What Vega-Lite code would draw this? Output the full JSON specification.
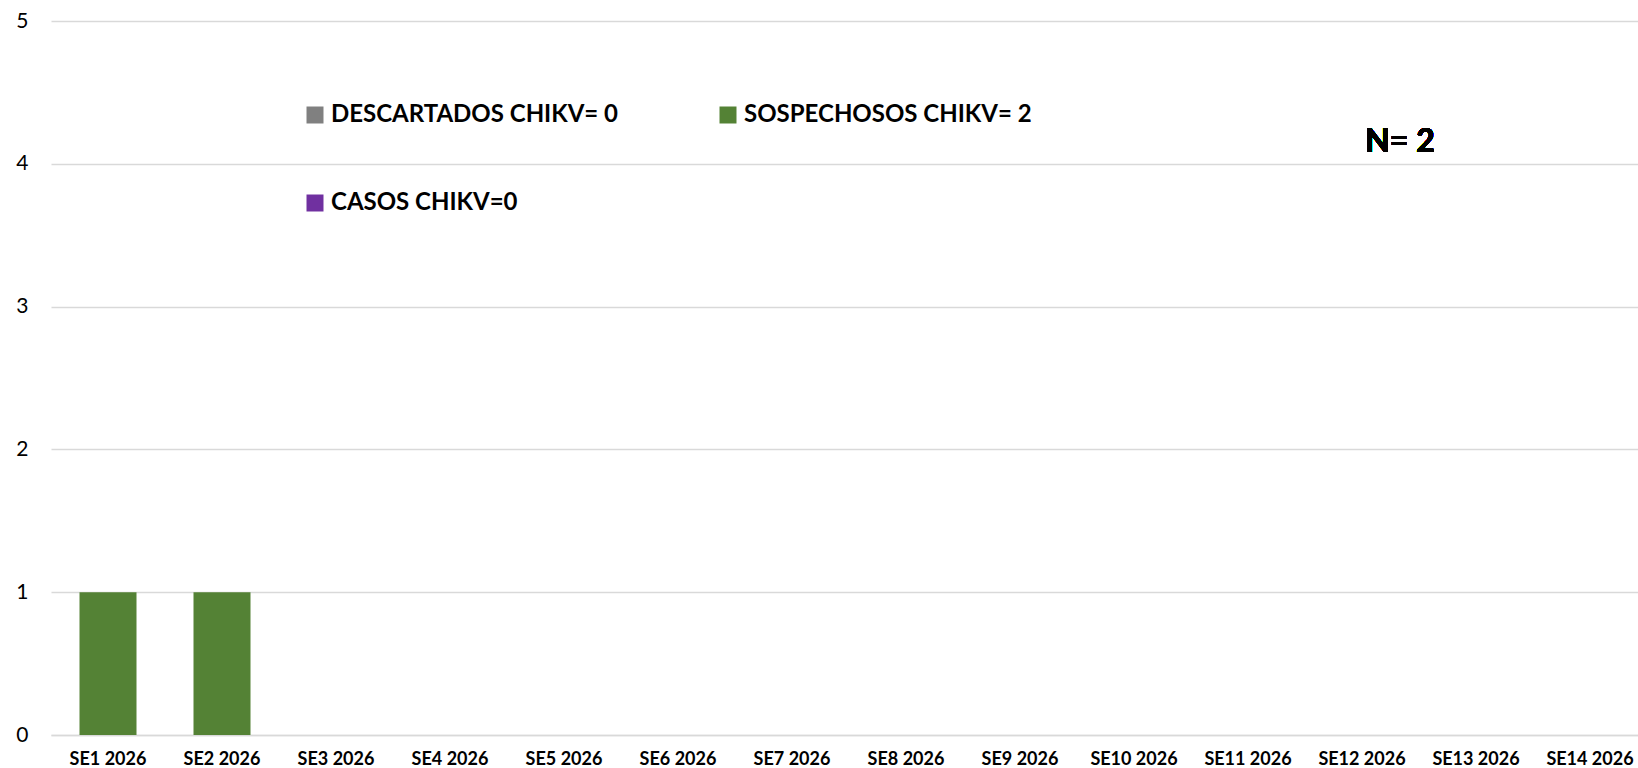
{
  "$schema": "https://vega.github.io/schema/vega-lite/v6.json",
  "autosize": "none",
  "width": 1596,
  "height": 714,
  "padding": {"left": 51, "top": 21, "right": 0, "bottom": 33},
  "background": "white",
  "config": {
    "font": "Lato",
    "view": {"stroke": null}
  },
  "data": {
    "values": [
      {"semana": "SE1 2026", "serie": "DESCARTADOS CHIKV= 0", "casos": 0},
      {"semana": "SE1 2026", "serie": "SOSPECHOSOS CHIKV= 2", "casos": 1},
      {"semana": "SE1 2026", "serie": "CASOS CHIKV=0", "casos": 0},
      {"semana": "SE2 2026", "serie": "DESCARTADOS CHIKV= 0", "casos": 0},
      {"semana": "SE2 2026", "serie": "SOSPECHOSOS CHIKV= 2", "casos": 1},
      {"semana": "SE2 2026", "serie": "CASOS CHIKV=0", "casos": 0},
      {"semana": "SE3 2026", "serie": "DESCARTADOS CHIKV= 0", "casos": 0},
      {"semana": "SE3 2026", "serie": "SOSPECHOSOS CHIKV= 2", "casos": 0},
      {"semana": "SE3 2026", "serie": "CASOS CHIKV=0", "casos": 0},
      {"semana": "SE4 2026", "serie": "DESCARTADOS CHIKV= 0", "casos": 0},
      {"semana": "SE4 2026", "serie": "SOSPECHOSOS CHIKV= 2", "casos": 0},
      {"semana": "SE4 2026", "serie": "CASOS CHIKV=0", "casos": 0},
      {"semana": "SE5 2026", "serie": "DESCARTADOS CHIKV= 0", "casos": 0},
      {"semana": "SE5 2026", "serie": "SOSPECHOSOS CHIKV= 2", "casos": 0},
      {"semana": "SE5 2026", "serie": "CASOS CHIKV=0", "casos": 0},
      {"semana": "SE6 2026", "serie": "DESCARTADOS CHIKV= 0", "casos": 0},
      {"semana": "SE6 2026", "serie": "SOSPECHOSOS CHIKV= 2", "casos": 0},
      {"semana": "SE6 2026", "serie": "CASOS CHIKV=0", "casos": 0},
      {"semana": "SE7 2026", "serie": "DESCARTADOS CHIKV= 0", "casos": 0},
      {"semana": "SE7 2026", "serie": "SOSPECHOSOS CHIKV= 2", "casos": 0},
      {"semana": "SE7 2026", "serie": "CASOS CHIKV=0", "casos": 0},
      {"semana": "SE8 2026", "serie": "DESCARTADOS CHIKV= 0", "casos": 0},
      {"semana": "SE8 2026", "serie": "SOSPECHOSOS CHIKV= 2", "casos": 0},
      {"semana": "SE8 2026", "serie": "CASOS CHIKV=0", "casos": 0},
      {"semana": "SE9 2026", "serie": "DESCARTADOS CHIKV= 0", "casos": 0},
      {"semana": "SE9 2026", "serie": "SOSPECHOSOS CHIKV= 2", "casos": 0},
      {"semana": "SE9 2026", "serie": "CASOS CHIKV=0", "casos": 0},
      {"semana": "SE10 2026", "serie": "DESCARTADOS CHIKV= 0", "casos": 0},
      {"semana": "SE10 2026", "serie": "SOSPECHOSOS CHIKV= 2", "casos": 0},
      {"semana": "SE10 2026", "serie": "CASOS CHIKV=0", "casos": 0},
      {"semana": "SE11 2026", "serie": "DESCARTADOS CHIKV= 0", "casos": 0},
      {"semana": "SE11 2026", "serie": "SOSPECHOSOS CHIKV= 2", "casos": 0},
      {"semana": "SE11 2026", "serie": "CASOS CHIKV=0", "casos": 0},
      {"semana": "SE12 2026", "serie": "DESCARTADOS CHIKV= 0", "casos": 0},
      {"semana": "SE12 2026", "serie": "SOSPECHOSOS CHIKV= 2", "casos": 0},
      {"semana": "SE12 2026", "serie": "CASOS CHIKV=0", "casos": 0},
      {"semana": "SE13 2026", "serie": "DESCARTADOS CHIKV= 0", "casos": 0},
      {"semana": "SE13 2026", "serie": "SOSPECHOSOS CHIKV= 2", "casos": 0},
      {"semana": "SE13 2026", "serie": "CASOS CHIKV=0", "casos": 0},
      {"semana": "SE14 2026", "serie": "DESCARTADOS CHIKV= 0", "casos": 0},
      {"semana": "SE14 2026", "serie": "SOSPECHOSOS CHIKV= 2", "casos": 0},
      {"semana": "SE14 2026", "serie": "CASOS CHIKV=0", "casos": 0}
    ]
  },
  "layer": [
    {
      "mark": {"type": "bar", "stroke": null},
      "encoding": {
        "x": {
          "field": "semana",
          "type": "nominal",
          "sort": null,
          "scale": {"paddingInner": 0.5, "paddingOuter": 0.25},
          "axis": {
            "title": null,
            "labelAngle": 0,
            "labelFont": "Lato",
            "labelFontWeight": "bold",
            "labelFontSize": 18,
            "labelColor": "#000000",
            "labelPadding": 15,
            "ticks": false,
            "domain": true,
            "domainColor": "#d9d9d9",
            "domainWidth": 1.5,
            "grid": false
          }
        },
        "y": {
          "field": "casos",
          "type": "quantitative",
          "stack": "zero",
          "scale": {"domain": [0, 5], "nice": false},
          "axis": {
            "title": null,
            "values": [0, 1, 2, 3, 4, 5],
            "format": "d",
            "labelFont": "Lato",
            "labelFontSize": 21,
            "labelColor": "#000000",
            "labelPadding": 23,
            "ticks": false,
            "domain": false,
            "grid": true,
            "gridColor": "#d9d9d9",
            "gridWidth": 1.5
          }
        },
        "color": {
          "field": "serie",
          "type": "nominal",
          "scale": {
            "domain": ["DESCARTADOS CHIKV= 0", "SOSPECHOSOS CHIKV= 2", "CASOS CHIKV=0"],
            "range": ["#808080", "#548235", "#7030A0"]
          },
          "legend": {
            "title": null,
            "orient": "none",
            "legendX": 252,
            "legendY": 82,
            "direction": "horizontal",
            "columns": 2,
            "columnPadding": 97,
            "rowPadding": 64,
            "symbolType": "square",
            "symbolSize": 289,
            "symbolStrokeWidth": 0,
            "labelFont": "Lato",
            "labelFontSize": 24,
            "labelFontWeight": "bold",
            "labelColor": "#000000",
            "labelOffset": 4,
            "labelLimit": 0,
            "padding": 0
          }
        },
        "order": {"field": "serie", "sort": "descending"}
      }
    },
    {
      "mark": {"type": "text", "font": "Lato", "fontWeight": "bold", "fontSize": 32, "fill": "#000000", "stroke": null, "dx": 38, "align": "center", "baseline": "middle"},
      "encoding": {
        "x": {"datum": "SE12 2026"},
        "y": {"datum": 4.15},
        "text": {"value": "N= 2"}
      }
    }
  ]
}
